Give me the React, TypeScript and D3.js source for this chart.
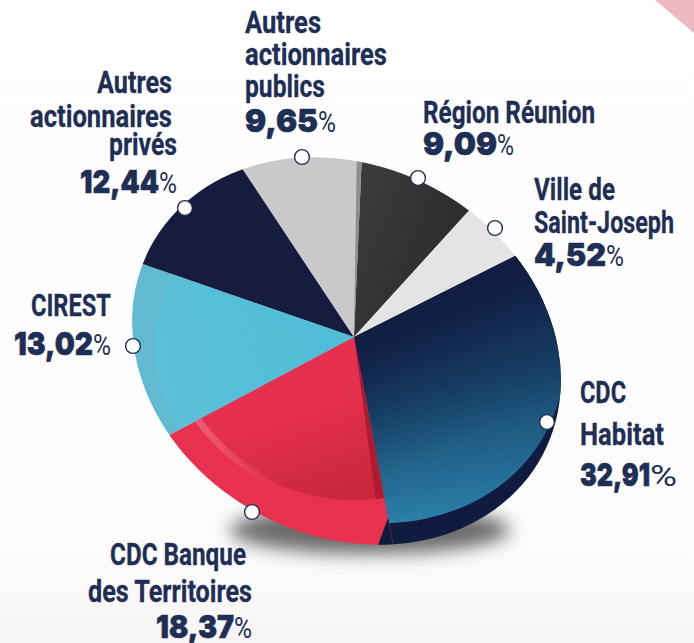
import React from "react";
import * as d3 from "d3";

const shareholders = ["CDC Habitat", "CDC Banque des Territoires", "CIREST", "Autres actionnaires privés", "Autres actionnaires publics", "Région Réunion", "Ville de Saint-Joseph"];
const shares = [32.91, 18.37, 13.02, 12.44, 9.65, 9.09, 4.52];
// The source picture is drawn in perspective: apparent sweep of each slice (degrees)
const apparentSweep = [106, 72.7, 47, 37.4, 36, 39.8, 21];
const labelLines = [["CDC", "Habitat"], ["CDC Banque", "des Territoires"], ["CIREST"], ["Autres", "actionnaires", "privés"], ["Autres", "actionnaires", "publics"], ["Région Réunion"], ["Ville de", "Saint-Joseph"]];
const sliceFills = ["#101b3f", "#e8304f", "#62bad2", "#161c3e", "#c9c9cb", "#333335", "#e4e4e4"];

const W = 694, H = 643;
const NAVY = "#1e2e55";
const TEXT_FONT = "'Liberation Sans Narrow', Roboto, sans-serif";
const NUM_FONT = "Inter, Roboto, sans-serif";
const apex = { x: 354, y: 337 };
const rim = { cx: 346.5, cy: 351, rx: 222, ry: 185, rot: 28 };
const G = `translate(${-apex.x},${-apex.y})`;

// layout per label: x anchor, baselines and widths of text lines, then number row
const labelLayout = [
  { bl: [403, 445], xs: [580, 580], ws: [46, 84], nx: 580, nw: 70, pw: 27, nb: 486 },
  { bl: [565, 602], xs: [110, 88], ws: [136, 164], nx: 156, nw: 78, pw: 18, nb: 638 },
  { bl: [316], xs: [31], ws: [80], nx: 14, nw: 79, pw: 18, nb: 355 },
  { bl: [93, 127, 155], xs: [97, 30, 109], ws: [75, 142, 68], nx: 80, nw: 79, pw: 18, nb: 193 },
  { bl: [33, 65, 97], xs: [245, 245, 245], ws: [76, 142, 80], nx: 245, nw: 73, pw: 18, nb: 132 },
  { bl: [123], xs: [423], ws: [172], nx: 423, nw: 74, pw: 17, nb: 155 },
  { bl: [200, 233], xs: [534, 534], ws: [81, 140], nx: 534, nw: 72, pw: 18, nb: 266 },
];
const dotPositions = [[547, 422], [252, 512], [133, 346], [185, 208], [302, 157], [418, 178], [495, 228]];

const rad = (d: number) => (d * Math.PI) / 180;
const fmt = (v: number) => d3.format(".2f")(v).replace(".", ",");

export default function App() {
  const pie = d3.pie<number>().sort(null).value((d) => d).startAngle(rad(63.3)).endAngle(rad(423.3));
  const arcs = pie(apparentSweep);
  const wedge = d3.arc<any>().innerRadius(0).outerRadius(400);
  const path = (a: number, b: number) => wedge({ startAngle: a, endAngle: b })!;
  const ell = (c: typeof rim) => (
    <ellipse cx={c.cx} cy={c.cy} rx={c.rx} ry={c.ry} transform={`rotate(${c.rot} ${c.cx} ${c.cy})`} />
  );
  const T = `translate(${apex.x},${apex.y})`;
  return (
    <svg width={W} height={H} viewBox={`0 0 ${W} ${H}`} style={{ position: "absolute", left: 0, top: 0, display: "block" }}>
      <defs>
        <linearGradient id="bg" x1="0" y1="0" x2="0" y2="1">
          <stop offset="0" stopColor="#ffffff" />
          <stop offset="0.85" stopColor="#fdfcfc" />
          <stop offset="1" stopColor="#f6f5f4" />
        </linearGradient>
        <linearGradient id="teal" gradientUnits="userSpaceOnUse" x1="430" y1="280" x2="460" y2="515" gradientTransform={G}>
          <stop offset="0" stopColor="#14224b" />
          <stop offset="0.42" stopColor="#173f66" />
          <stop offset="1" stopColor="#2a7fa8" />
        </linearGradient>
        <linearGradient id="tealEdge" gradientUnits="userSpaceOnUse" x1="505" y1="290" x2="555" y2="400" gradientTransform={G}>
          <stop offset="0" stopColor="#111d42" stopOpacity="0.9" />
          <stop offset="1" stopColor="#14405f" stopOpacity="0" />
        </linearGradient>
        <linearGradient id="redIn" gradientUnits="userSpaceOnUse" x1="300" y1="410" x2="330" y2="500" gradientTransform={G}>
          <stop offset="0" stopColor="#e6304f" />
          <stop offset="1" stopColor="#c8273e" />
        </linearGradient>
        <linearGradient id="redBevel" gradientUnits="userSpaceOnUse" x1="185" y1="0" x2="275" y2="0">
          <stop offset="0" stopColor="#ec6478" />
          <stop offset="1" stopColor="#ec6478" stopOpacity="0" />
        </linearGradient>
        <linearGradient id="blueIn" gradientUnits="userSpaceOnUse" x1="340" y1="340" x2="150" y2="380" gradientTransform={G}>
          <stop offset="0" stopColor="#4fbdd6" />
          <stop offset="1" stopColor="#5cc0d8" />
        </linearGradient>
        <linearGradient id="dark" gradientUnits="userSpaceOnUse" x1="360" y1="170" x2="470" y2="215" gradientTransform={G}>
          <stop offset="0" stopColor="#3c3c3e" />
          <stop offset="1" stopColor="#2c2c2e" />
        </linearGradient>
        <filter id="blur" x="-30%" y="-80%" width="160%" height="260%">
          <feGaussianBlur stdDeviation="9" />
        </filter>
        <clipPath id="rimClip">{ell(rim)}</clipPath>
        <clipPath id="cut"><rect x="0" y="0" width="561" height={H} /></clipPath>
        <clipPath id="tealClip">{ell({ ...rim, cx: 350, cy: 328, rx: 222, ry: 187 })}</clipPath>
        <clipPath id="redClip"><ellipse cx={354} cy={300} rx={195} ry={200} /></clipPath>
        <clipPath id="redWedge"><path transform={T} d={path(rad(169.4), rad(242.1))} /></clipPath>
        <clipPath id="blueClip"><ellipse cx={360} cy={345} rx={205} ry={180} /></clipPath>
      </defs>
      <rect width={W} height={H} fill="url(#bg)" />
      <path d={`M${W - 39},0 L${W},33 L${W},0 Z`} fill="#edb9c0" />

      <ellipse cx={370} cy={530} rx={140} ry={24} fill="#6a6a6a" filter="url(#blur)" />

      <g clipPath="url(#cut)">
        <g clipPath="url(#rimClip)">
          <g transform={T}>
            {arcs.map((a, i) => (
              <path key={shareholders[i]} d={path(a.startAngle, a.endAngle)} fill={i === 5 ? "url(#dark)" : sliceFills[i]} />
            ))}
          </g>
          <g clipPath="url(#tealClip)">
            <path transform={T} d={path(arcs[0].startAngle, arcs[0].endAngle)} fill="url(#teal)" />
            <path transform={T} d={path(arcs[0].startAngle, arcs[0].endAngle)} fill="url(#tealEdge)" />
          </g>
          <g clipPath="url(#redClip)">
            <path transform={T} d={path(arcs[1].startAngle, arcs[1].endAngle)} fill="url(#redIn)" />
            <path transform={T} d={path(arcs[1].startAngle, arcs[1].startAngle + rad(3))} fill="#b01a30" />
          </g>
          <g clipPath="url(#redWedge)">
            <ellipse cx={354} cy={300} rx={195} ry={200} fill="none" stroke="url(#redBevel)" strokeWidth={7} />
          </g>
          <g clipPath="url(#blueClip)">
            <path transform={T} d={path(arcs[2].startAngle, arcs[2].endAngle)} fill="url(#blueIn)" />
          </g>
          <path transform={T} d={path(arcs[4].endAngle - rad(1.6), arcs[4].endAngle)} fill="#8e8e90" />
          {/* dark side of the thick CDC Habitat slice, seen below the teal face */}
          <path transform="translate(388,518)" d={path(rad(169.4), rad(200.3))} fill={sliceFills[0]} />
        </g>
      </g>

      {dotPositions.map(([x, y], i) => (
        <circle key={shareholders[i]} cx={x} cy={y} r={7.4} fill="#fff" stroke={NAVY} strokeWidth={1.4} />
      ))}

      {labelLines.map((lines, i) => {
        const L = labelLayout[i];
        return (
          <g key={shareholders[i]} fill={NAVY}>
            {lines.map((t, j) => (
              <text key={t} x={L.xs[j]} y={L.bl[j]} fontFamily={TEXT_FONT} fontWeight={700} fontSize={32} stroke={NAVY} strokeWidth={0.3}
                textLength={L.ws[j]} lengthAdjust="spacingAndGlyphs">{t}</text>
            ))}
            <text x={L.nx} y={L.nb} fontFamily={NUM_FONT} fontWeight={900} fontSize={32} stroke={NAVY} strokeWidth={0.6}
              textLength={L.nw} lengthAdjust="spacingAndGlyphs">{fmt(shares[i])}</text>
            <text x={L.nx + L.nw} y={L.nb} fontFamily={TEXT_FONT} fontWeight={400} fontSize={30}
              textLength={L.pw} lengthAdjust="spacingAndGlyphs">%</text>
          </g>
        );
      })}
    </svg>
  );
}
